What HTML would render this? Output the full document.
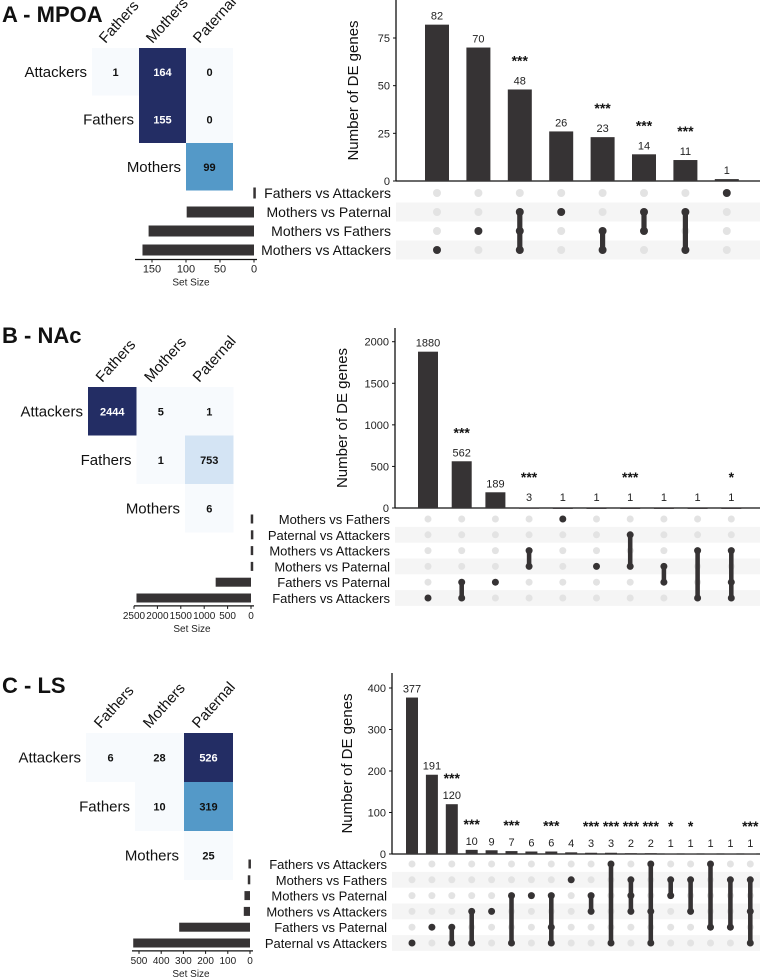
<!DOCTYPE html>
<html><head><meta charset="utf-8">
<style>
html,body{margin:0;padding:0;background:#fff;}
svg{display:block;font-family:"Liberation Sans",Arial,sans-serif;}
</style></head>
<body>
<svg id="fig" width="780" height="980" viewBox="0 0 780 980" xmlns="http://www.w3.org/2000/svg"></svg>
<script>
// ---------- Panel A data ----------
const aCounts = [82,70,48,26,23,14,11,1];
const aStars = ["","","***","","***","***","***",""];
const aSets = ["Fathers vs Attackers","Mothers vs Paternal","Mothers vs Fathers","Mothers vs Attackers"];
const aMembers = [[3],[2],[1,2,3],[1],[2,3],[1,2],[1,3],[0]];
const aSetSizes = [1,99,155,164];
const aTicks = [0,25,50,75];
const aSizeTicks = [0,50,100,150];
const aHeatCols = ["Fathers","Mothers","Paternal"];
const aHeatRows = ["Attackers","Fathers","Mothers"];
const aHeat = [[1,164,0],[null,155,0],[null,null,99]];
// ---------- Panel B data ----------
const bCounts = [1880,562,189,3,1,1,1,1,1,1];
const bStars = ["","***","","***","","","***","","","*"];
const bSets = ["Mothers vs Fathers","Paternal vs Attackers","Mothers vs Attackers","Mothers vs Paternal","Fathers vs Paternal","Fathers vs Attackers"];
const bMembers = [[5],[4,5],[4],[2,3],[0],[3],[1,3],[3,4],[2,5],[2,4,5]];
const bSetSizes = [6,3,6,6,755,2447];
const bTicks = [0,500,1000,1500,2000];
const bSizeTicks = [0,500,1000,1500,2000,2500];
const bHeatCols = ["Fathers","Mothers","Paternal"];
const bHeatRows = ["Attackers","Fathers","Mothers"];
const bHeat = [[2444,5,1],[null,1,753],[null,null,6]];
// ---------- Panel C data ----------
const cCounts = [377,191,120,10,9,7,6,6,4,3,3,2,2,1,1,1,1,1];
const cStars = ["","","***","***","","***","","***","","***","***","***","***","*","*","","","***"];
const cSets = ["Fathers vs Attackers","Mothers vs Fathers","Mothers vs Paternal","Mothers vs Attackers","Fathers vs Paternal","Paternal vs Attackers"];
const cMembers = [[5],[4],[4,5],[3,5],[3],[2,5],[2],[2,4,5],[1],[2,3],[0,5],[1,2,3],[0,3,5],[1,2],[1,3],[0,4],[1,4],[1,3,5]];
const cSetSizes = [7,10,25,28,319,526];
const cTicks = [0,100,200,300,400];
const cSizeTicks = [0,100,200,300,400,500];
const cHeatCols = ["Fathers","Mothers","Paternal"];
const cHeatRows = ["Attackers","Fathers","Mothers"];
const cHeat = [[6,28,526],[null,10,319],[null,null,25]];

const NS="http://www.w3.org/2000/svg";
const svg=document.getElementById('fig');
function mk(tag,attrs,parent,txt){const e=document.createElementNS(NS,tag);for(const k in attrs)e.setAttribute(k,attrs[k]);if(txt!==undefined)e.textContent=txt;(parent||svg).appendChild(e);return e;}
const BAR="#363334";

function heatColor(v,max){
  if(v>=max*0.9) return "#232d64";
  if(v>=max*0.35) return "#5499c8";
  if(v>=max*0.2) return "#d4e4f4";
  return "#f7fafd";
}

function panel(cfg){
  const g=mk('g',{});  
  const t=mk('text',{x:2,y:cfg.titleY,'font-size':22,'font-weight':'bold',fill:'#111'},g,cfg.title);
   
  const hm=mk('g',{},g);  
  const cw=cfg.cellW, ch=cfg.cellH;
  const maxv=Math.max(...cfg.heat.flat().filter(v=>v!==null));
  cfg.heat.forEach((row,ri)=>{
    let first=-1;
    row.forEach((v,ci)=>{
      if(v===null) return;
      if(first<0) first=ci;
      const x=cfg.hx+ci*cw, y=cfg.hy+ri*ch;
      const fill=heatColor(v,maxv);
      const r=mk('rect',{x:x,y:y,width:cw,height:ch,fill:fill},hm);
       
      const tx=mk('text',{x:x+cw/2,y:y+ch/2+4,'text-anchor':'middle','font-size':11,'font-weight':'bold',fill:(fill==="#232d64")?'#fff':'#111'},hm,String(v));
       
    });
    const lb=mk('text',{x:cfg.hx+first*cw-5,y:cfg.hy+ri*ch+ch/2+5,'text-anchor':'end','font-size':15,fill:'#111'},hm,cfg.heatRows[ri]);
     
  });
  cfg.heatCols.forEach((c,ci)=>{
    const x=cfg.hx+ci*cw+cw/2-10, y=cfg.hy-4;
    const lb=mk('text',{x:x,y:y,'font-size':15,fill:'#111',transform:`rotate(-48 ${x} ${y})`},hm,c);
     
  });
  const yS=v=>cfg.y0-(v/cfg.ymax)*(cfg.y0-cfg.yTop);
  const xS=i=>cfg.x1+i*cfg.step;
  const ax=mk('g',{},g);  
  mk('line',{x1:cfg.axX,y1:cfg.axTop,x2:cfg.axX,y2:cfg.y0,stroke:'#111','stroke-width':1.3},ax);
  mk('line',{x1:cfg.axX,y1:cfg.y0,x2:cfg.axRight,y2:cfg.y0,stroke:'#111','stroke-width':1.3},ax);
  cfg.ticks.forEach(tv=>{
    const y=yS(tv);
    mk('line',{x1:cfg.axX-3,y1:y,x2:cfg.axX,y2:y,stroke:'#111'},ax);
    const tl=mk('text',{x:cfg.axX-6,y:y+4,'text-anchor':'end','font-size':11,fill:'#222'},ax,String(tv));
     
  });
  const yt=mk('text',{x:0,y:0,'text-anchor':'middle','font-size':15,fill:'#111',transform:`translate(${cfg.axX-cfg.titleOff} ${(cfg.y0+cfg.axTop)/2}) rotate(-90)`},ax,'Number of DE genes');
   
  const mx=mk('g',{},g);  
  const rh=cfg.rowStep;
  cfg.sets.forEach((s,ri)=>{
    const y=cfg.r0+ri*rh;
    if(ri%2===1){const st=mk('rect',{x:cfg.axX,y:y-rh/2,width:cfg.axRight-cfg.axX,height:rh,fill:'#f5f5f5'},mx);}
    const lb=mk('text',{x:cfg.axX-5,y:y+5,'text-anchor':'end','font-size':cfg.rowFont,fill:'#111'},mx,s);
     
  });
  cfg.counts.forEach((v,i)=>{
    const x=xS(i);
    const b=mk('rect',{x:x-cfg.bw/2,y:yS(v),width:cfg.bw,height:Math.max(cfg.y0-yS(v),1),fill:BAR},g);
     
    const ty=Math.min(yS(v),cfg.y0-2)-5;
    const vl=mk('text',{x:x,y:ty,'text-anchor':'middle','font-size':11,fill:'#222'},g,String(v));
     
    if(cfg.stars[i]){
      const sl=mk('text',{x:x,y:ty-cfg.starGap,'text-anchor':'middle','font-size':14,'font-weight':'bold',fill:'#111'},g,cfg.stars[i]);
       
    }
    const mem=cfg.members[i];
    cfg.sets.forEach((s,ri)=>{
      if(mem.indexOf(ri)<0){const d=mk('circle',{cx:x,cy:cfg.r0+ri*rh,r:cfg.dotR,fill:'#e3e3e3'},mx);}
    });
    const lo=Math.min(...mem), hi=Math.max(...mem);
    if(hi>lo){const l=mk('line',{x1:x,y1:cfg.r0+lo*rh,x2:x,y2:cfg.r0+hi*rh,stroke:BAR,'stroke-width':cfg.dotR*1.3},mx);}
    mem.forEach(ri=>{const d=mk('circle',{cx:x,cy:cfg.r0+ri*rh,r:cfg.dotR,fill:BAR},mx);});
  });
  const ss=mk('g',{},g);  
  const sx=v=>cfg.sZero-v*cfg.sScale;
  cfg.setSizes.forEach((v,ri)=>{
    const y=cfg.r0+ri*rh;
    const b=mk('rect',{x:sx(v),y:y-cfg.sbh/2,width:Math.max(v*cfg.sScale,2.5),height:cfg.sbh,fill:BAR},ss);
     
  });
  const axy=cfg.r0+(cfg.sets.length-0.5)*rh;
  mk('line',{x1:cfg.sLeft,y1:axy,x2:cfg.sZero+3,y2:axy,stroke:'#111','stroke-width':1.2},ss);
  cfg.sizeTicks.forEach(tv=>{
    mk('line',{x1:sx(tv),y1:axy,x2:sx(tv),y2:axy+3,stroke:'#111'},ss);
    const tl=mk('text',{x:sx(tv),y:axy+13,'text-anchor':'middle','font-size':cfg.sTickFont,fill:'#222'},ss,String(tv));
     
  });
  const st=mk('text',{x:cfg.sTitleX,y:axy+26,'text-anchor':'middle','font-size':10,fill:'#222'},ss,'Set Size');
   
}

panel({id:'mpoa',title:'A - MPOA',titleY:22,hx:92,hy:48,cellW:47,cellH:47.5,heat:aHeat,heatCols:aHeatCols,heatRows:aHeatRows,
  counts:aCounts,stars:aStars,sets:aSets,members:aMembers,setSizes:aSetSizes,ticks:aTicks,sizeTicks:aSizeTicks,
  y0:181,yTop:38,ymax:75,axX:396,axTop:0,axRight:760,x1:437,step:41.4,bw:24,titleOff:38,starGap:19,
  r0:193,rowStep:19,rowFont:14,dotR:4,sZero:254,sScale:0.68,sbh:11,sLeft:135,sTickFont:11,sTitleX:191});
panel({id:'nac',title:'B - NAc',titleY:343,hx:88,hy:387,cellW:48.5,cellH:48.5,heat:bHeat,heatCols:bHeatCols,heatRows:bHeatRows,
  counts:bCounts,stars:bStars,sets:bSets,members:bMembers,setSizes:bSetSizes,ticks:bTicks,sizeTicks:bSizeTicks,
  y0:508,yTop:341.7,ymax:2000,axX:395,axTop:328,axRight:760,x1:428,step:33.7,bw:20,titleOff:48,starGap:19,
  r0:519,rowStep:15.8,rowFont:13,dotR:3.5,sZero:251,sScale:0.0468,sbh:9,sLeft:134,sTickFont:10,sTitleX:192});
panel({id:'ls',title:'C - LS',titleY:693,hx:86,hy:733,cellW:49,cellH:49,heat:cHeat,heatCols:cHeatCols,heatRows:cHeatRows,
  counts:cCounts,stars:cStars,sets:cSets,members:cMembers,setSizes:cSetSizes,ticks:cTicks,sizeTicks:cSizeTicks,
  y0:854,yTop:688,ymax:400,axX:392,axTop:673,axRight:760,x1:412,step:19.9,bw:12,titleOff:40,starGap:16,
  r0:864,rowStep:15.8,rowFont:13,dotR:3.5,sZero:250,sScale:0.222,sbh:9,sLeft:132,sTickFont:10,sTitleX:191});
</script>
</body></html>
